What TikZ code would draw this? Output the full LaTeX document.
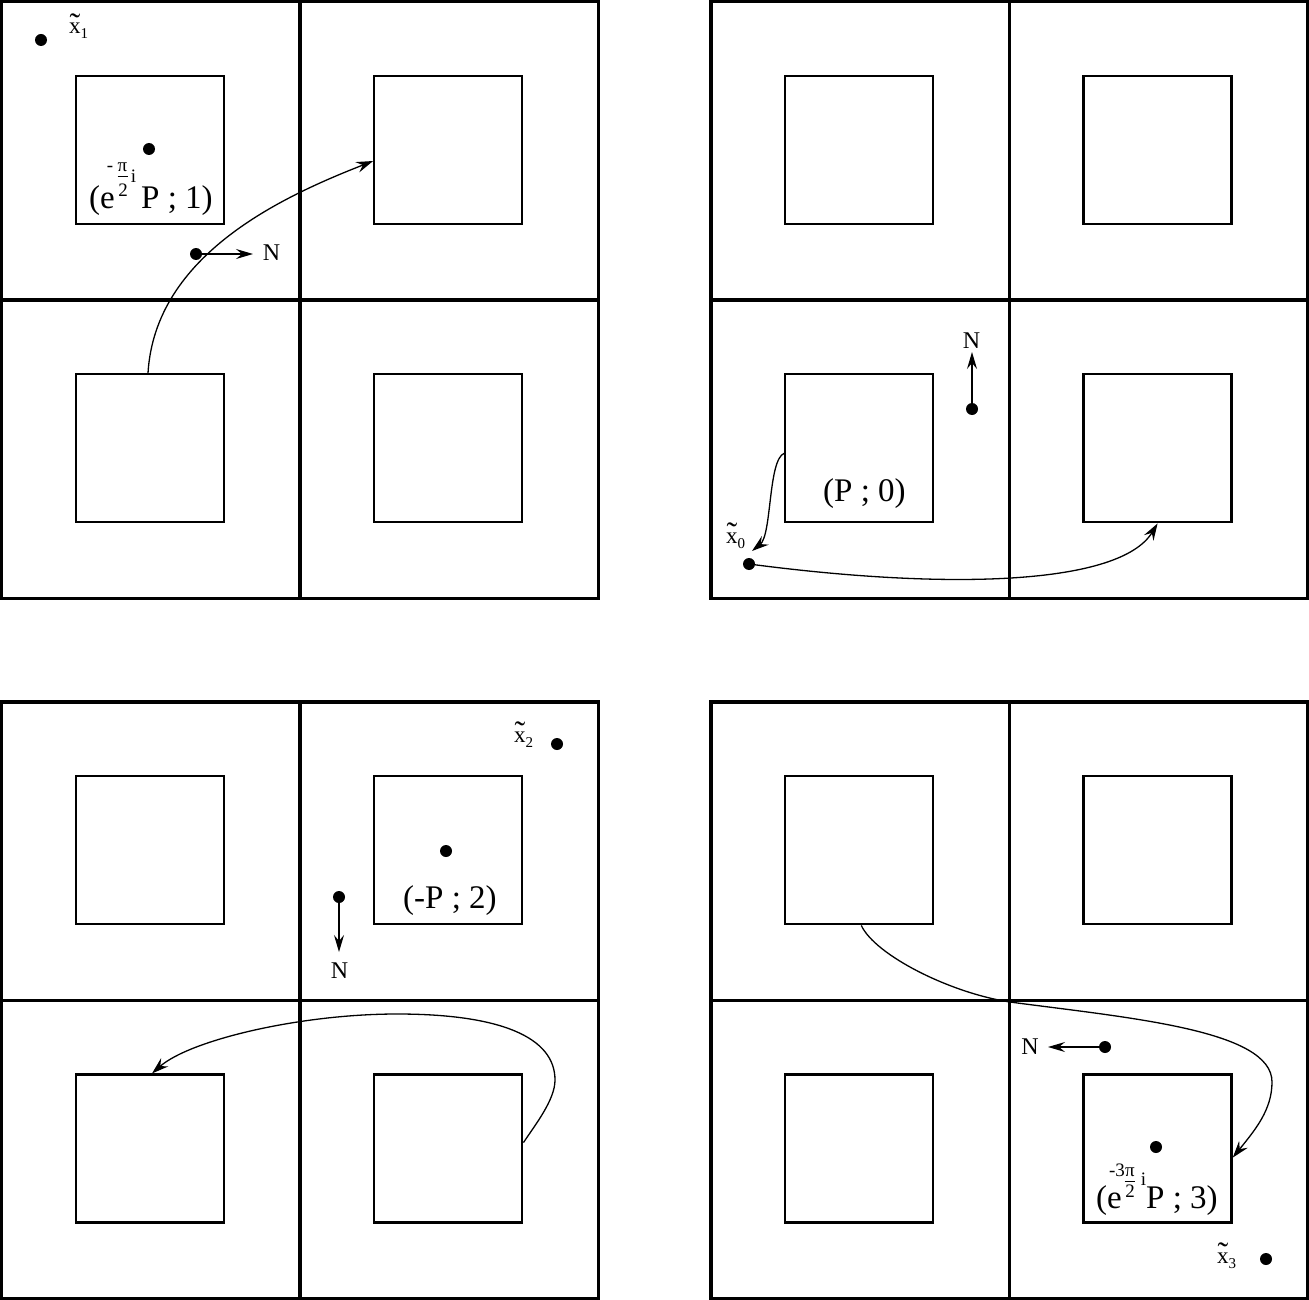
\documentclass[tikz,border=0pt]{standalone}
\usepackage{fontspec}
\setmainfont{Liberation Serif}
\usetikzlibrary{arrows.meta,calc}
\tikzset{
  gridline/.style={line width=3.3pt},
  sq/.style={draw, line width=2.3pt, shape=rectangle, minimum size=148pt, inner sep=0pt},
  blackdot/.style={circle, fill=black, minimum size=12pt, inner sep=0pt},
  curvearrow/.style={line width=1.3pt, -{Stealth[length=17pt,width=11pt,inset=6pt]}},
  narr/.style={line width=1.3pt, -{Stealth[length=17pt,width=10pt,inset=6pt]}},
  nlab/.style={inner sep=0pt, font=\fontsize{24}{24}\selectfont},
  mainlab/.style={inner sep=0pt, anchor=base west, font=\fontsize{33}{33}\selectfont},
  suplab/.style={inner sep=0pt, anchor=base, font=\fontsize{19}{19}\selectfont},
  xlab/.style={inner sep=0pt, anchor=base west, font=\fontsize{23}{23}\selectfont},
  fracbar/.style={line width=1pt},
}
\newcommand\mypanel[3]{%
  \draw[gridline] (#2,#3) rectangle ++(596.5,596.5);
  \draw[gridline] (#2+298.25,#3) -- ++(0,596.5);
  \draw[gridline] (#2,#3+298.25) -- ++(596.5,0);
  \node[sq] (#100) at (#2+148.3,#3+148.3) {};
  \node[sq] (#110) at (#2+446.6,#3+148.3) {};
  \node[sq] (#101) at (#2+148.3,#3+446.6) {};
  \node[sq] (#111) at (#2+446.6,#3+446.6) {};
}
\newcommand\xt[1]{\ooalign{x\cr\hidewidth\raisebox{-1.5pt}{\scalebox{1.4}{\symbol{"02DC}}}\hidewidth\cr}\raisebox{-5pt}{\fontsize{15}{15}\selectfont #1}}
\begin{document}
\begin{tikzpicture}[x=1pt,y=-1pt]
\useasboundingbox (0,0) rectangle (1309,1300);
\fill[white] (0,0) rectangle (1309,1300);
\mypanel{A}{1.7}{1.7}
\mypanel{B}{711}{1.7}
\mypanel{C}{1.7}{702}
\mypanel{D}{711}{702}

% dots
\node[blackdot] (x1) at (41,40) {};
\node[blackdot] (p1) at (149,149) {};
\node[blackdot] (n1d) at (196,254) {};
\node[blackdot] (n0d) at (972,409) {};
\node[blackdot] (x0) at (749,564) {};
\node[blackdot] (x2) at (557,744) {};
\node[blackdot] (p2) at (446,851) {};
\node[blackdot] (n2d) at (339,897) {};
\node[blackdot] (n3d) at (1105,1047) {};
\node[blackdot] (p3) at (1156,1147) {};
\node[blackdot] (x3) at (1266,1259) {};

% curves
\draw[curvearrow] ($(A01.north)+(-2,0)$) .. controls (155,254) and (284,196) .. ($(A10.west)+(0,11)$);
\coordinate (x0tip) at (752,551);
\draw[curvearrow] ($(B01.west)+(0,5)$) .. controls (768,460) and (772,535) .. (x0tip);
\draw[curvearrow] (x0) .. controls (950,590) and (1120,585) .. (B11.south);
\draw[curvearrow] ($(C11.east)+(0,-6)$) .. controls (535,1125) and (555,1100) .. (555,1080)
   .. controls (555,1037) and (500,1014) .. (397,1014)
   .. controls (300,1014) and (190,1040) .. ($(C01.north)+(2,0)$);
\draw[curvearrow] ($(D00.south)+(2,0)$) .. controls (875,955) and (950,993) .. (1010,1002)
   .. controls (1130,1018) and (1272,1030) .. (1272,1082)
   .. controls (1272,1110) and (1255,1130) .. ($(D11.east)+(0,9)$);

% N arrows
\node[nlab] (N1) at (271.5,253) {N};
\node[nlab] (N0) at (971.5,340.5) {N};
\node[nlab] (N2) at (339.5,970.5) {N};
\node[nlab] (N3) at (1030,1047) {N};
\coordinate (t1) at (253,254);
\coordinate (t0) at (972,352);
\coordinate (t2) at (339,952);
\coordinate (t3) at (1048,1047);
\draw[narr] (n1d) -- (t1);
\draw[narr] (n0d) -- (t0);
\draw[narr] (n2d) -- (t2);
\draw[narr] (n3d) -- (t3);

% x labels
\node[xlab] (lx1) at (69,34) {\xt{1}};
\node[xlab] (lx0) at (726,543) {\xt{0}};
\node[xlab] (lx2) at (514,742) {\xt{2}};
\node[xlab] (lx3) at (1217,1263) {\xt{3}};

% main labels
\node[mainlab] (L0) at (823,501) {(P ; 0)};
\node[mainlab] (L2) at (403,908) {(-P ; 2)};
\node[mainlab] (L1a) at (89,208) {(e};
\node[mainlab] (L1b) at (141,208) {P ; 1)};
\node[suplab] (L1m) at (110,172) {-};
\node[suplab] (L1n) at (122.5,172) {π};
\draw[fracbar] (117.5,177) -- (127.5,177);
\node[suplab] (L1d) at (123,197) {2};
\node[suplab] (L1i) at (133.5,183) {i};

\node[mainlab] (L3a) at (1096,1208) {(e};
\node[mainlab] (L3b) at (1146,1208) {P ; 3)};
\node[suplab] (L3m) at (1117,1176) {-3};
\node[suplab] (L3n) at (1130,1176) {π};
\draw[fracbar] (1124.5,1181) -- (1135,1181);
\node[suplab] (L3d) at (1130,1197) {2};
\node[suplab] (L3i) at (1143.5,1185) {i};
\end{tikzpicture}
\end{document}
